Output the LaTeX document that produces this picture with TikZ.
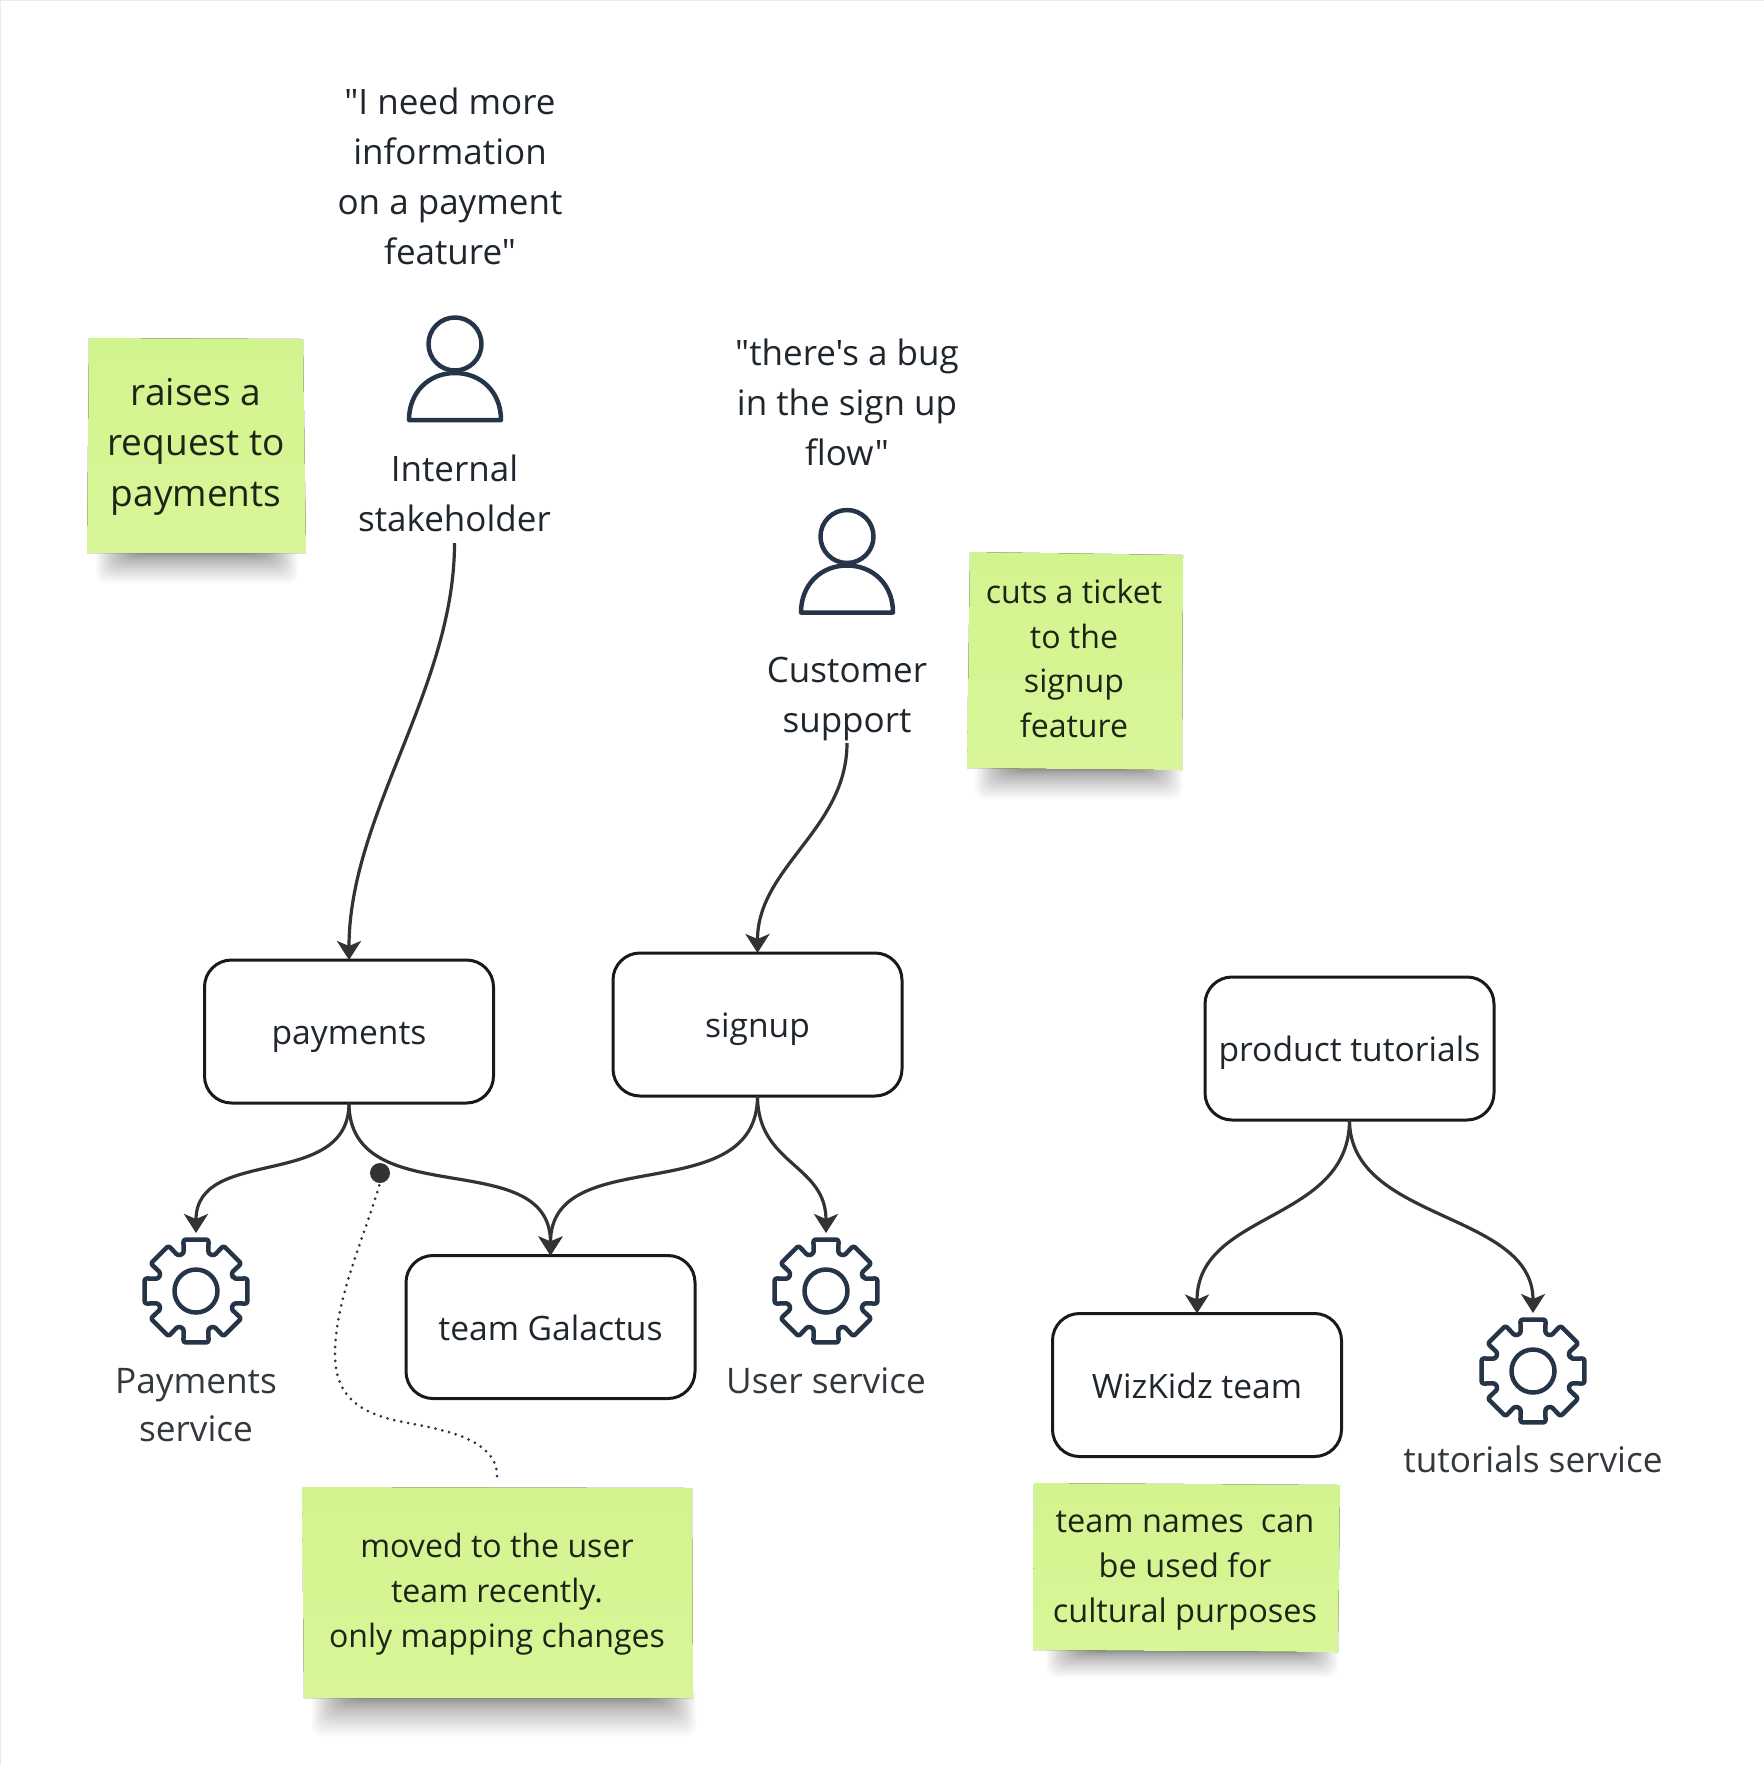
\documentclass[tikz,border=0pt]{standalone}
\usepackage{fontspec}
\setmainfont{Open Sans}[Ligatures=TeXOff]
\usetikzlibrary{arrows.meta,calc,shapes.geometric}
\definecolor{ink}{HTML}{253446}
\definecolor{txt}{HTML}{1F262D}
\definecolor{svc}{HTML}{33383D}
\definecolor{notetxt}{HTML}{1C2417}
\definecolor{link}{HTML}{333333}
\definecolor{stickyA}{HTML}{D2F48E}
\definecolor{stickyB}{HTML}{D8F698}
\tikzset{
  label36/.style={align=center,inner sep=0pt,outer sep=0pt,text=txt,font=\fontsize{35}{50}\selectfont},
  svclabel/.style={align=center,inner sep=0pt,outer sep=0pt,text=svc,font=\fontsize{35.2}{48}\selectfont},
  note36/.style={align=center,inner sep=0pt,text=notetxt,font=\fontsize{37}{50.5}\selectfont},
  note32/.style={align=center,inner sep=0pt,text=notetxt,font=\fontsize{32.1}{44.7}\selectfont},
  teambox/.style={draw=black!90,line width=3pt,rounded corners=27pt,minimum width=289pt,minimum height=143pt,
    inner sep=0pt,outer sep=0pt,text=txt,font=\fontsize{33.6}{44}\selectfont,fill=white,text height=26pt,text depth=0pt},
  gearslot/.style={circle,minimum size=116pt,inner sep=0pt,outer sep=0pt},
  iconline/.style={draw=ink,line width=4.5pt,line join=round},
  conn/.style={draw=link,line width=3.2pt,-{Stealth[length=19pt,width=24pt,inset=5pt]}},
  sticky/.style={top color=stickyA,bottom color=stickyB,draw=none},
}
\newcommand{\gearicon}[1]{%
  \draw[iconline,rounded corners=2.5pt] ($(#1)+(-18:39.5)$)
    \foreach \a in {0,45,...,315}{
      -- ($(#1)+(\a-18:39.5)$) -- ($(#1)+(\a-13.8:53)$) -- ($(#1)+(\a+13.8:53)$) -- ($(#1)+(\a+18:39.5)$)
    } -- cycle;
  \draw[iconline] (#1) circle[radius=21.5];
}
\newcommand{\personicon}[2]{%
  \draw[iconline] (#1,#2) circle[radius=26.5];
  \draw[iconline,line cap=round] (#1-46,#2+76) -- (#1+46,#2+76)
    .. controls (#1+46,#2+48) and (#1+26,#2+29) .. (#1,#2+29)
    .. controls (#1-26,#2+29) and (#1-46,#2+48) .. (#1-46,#2+76) -- cycle;
}
\newcommand{\stickyshadow}[4]{%
  \foreach \i in {1,...,24}{
    \pgfmathsetmacro{\ins}{(\i-1)*2.0}
    \pgfmathsetmacro{\dep}{#4*((25-\i)/24)^2}
    \fill[black,opacity=.022,rounded corners=10pt] (#1+\ins,#3-14) rectangle (#2-\ins,#3+\dep);
  }
}
\begin{document}
\begin{tikzpicture}[x=1pt,y=-1pt]
\useasboundingbox (0,0) rectangle (1764,1765);
\fill[white] (0,0) rectangle (1764,1765);
\draw[black!8,line width=1.5pt] (0.5,1765) -- (0.5,0.5) -- (1764,0.5);

% shadows
\stickyshadow{96}{298}{553}{30}
\stickyshadow{975}{1182}{769}{30}
\stickyshadow{312}{696}{1698}{38}
\stickyshadow{1046}{1338}{1651}{26}

% stickies
\fill[sticky] (89,338) -- (303,339) -- (306,553) -- (87,553) -- cycle;
\fill[sticky] (970,552) -- (1183,555) -- (1182,770) -- (967,768) -- cycle;
\fill[sticky] (302,1487) -- (692,1488) -- (693,1698) -- (304,1698) -- cycle;
\fill[sticky] (1034,1483) -- (1340,1485) -- (1338,1652) -- (1033,1650) -- cycle;

\node[note36] (n1) at (196,446.5) {raises a\\request to\\payments};
\node[note32] (n2) at (1074,658.5) {cuts a ticket\\to the\\signup\\feature};
\node[note32] (n3) at (497,1594) {moved to the user\\team recently.\\only mapping changes};
\node[note32,font=\fontsize{32.5}{44.7}\selectfont] (n4) at (1185,1570.5) {team names\ \ can\\be used for\\cultural purposes};

% labels
\node[label36] (q1) at (450,176) {"I need more\\information\\on a payment\\feature"};
\node[label36] (q2) at (847,402.5) {"there's a bug\\in the sign up\\flow"};
\node[label36,minimum height=99pt] (stake) at (454.5,493.5) {Internal\\stakeholder};
\node[label36,minimum height=88pt] (cust) at (847,699) {Customer\\support};

\personicon{455}{344}
\personicon{847}{536.5}

% boxes
\node[teambox] (pay) at (349,1031.5) {payments};
\node[teambox] (sign) at (757.5,1024.5) {signup};
\node[teambox] (tut) at (1349.5,1048.5) {product tutorials};
\node[teambox] (gal) at (550.5,1327) {team Galactus};
\node[teambox] (wiz) at (1197,1385) {WizKidz team};

% gears
\node[gearslot] (g1) at (196,1291) {};
\node[gearslot] (g2) at (826,1291) {};
\node[gearslot] (g3) at (1533,1371) {};
\gearicon{g1.center}
\gearicon{g2.center}
\gearicon{g3.center}

\node[svclabel] (s1) at (196,1405.5) {Payments\\service};
\node[svclabel] (s2) at (826,1381) {User service};
\node[svclabel] (s3) at (1533,1459.5) {tutorials service};

% connectors
\draw[conn] (stake.south) .. controls +(0,145) and +(0,-145) .. (pay.north);
\draw[conn] (cust.south) .. controls +(0,86) and +(0,-86) .. (sign.north);
\draw[conn] (pay.south) .. controls +(0,88) and +(0,-88) .. (g1.north);
\draw[conn] (pay.south) .. controls +(0,112) and +(0,-112) .. (gal.north);
\draw[conn] (sign.south) .. controls +(0,115) and +(0,-115) .. (gal.north);
\draw[conn] (sign.south) .. controls +(0,69) and +(0,-69) .. (g2.north);
\draw[conn] (tut.south) .. controls +(0,103) and +(0,-103) .. (wiz.north);
\draw[conn] (tut.south) .. controls +(0,102) and +(0,-102) .. (g3.north);

% dotted annotation
\node[circle,fill=link,minimum size=20pt,inner sep=0pt,outer sep=0pt] (dot) at (380,1173) {};
\coordinate (noteanchor) at (497,1476);
\coordinate (bendA) at (403,1422);
\coordinate (bendB) at (335,1353);
\draw[link,line width=3pt,line cap=round,dash pattern=on 0pt off 7pt]
  (noteanchor) .. controls +(0,-38) and (440,1429) .. (bendA)
  .. controls (358,1413) and (335,1396) .. (bendB)
  .. controls (335,1300) and (365,1235) .. (dot.south);
\end{tikzpicture}
\end{document}
